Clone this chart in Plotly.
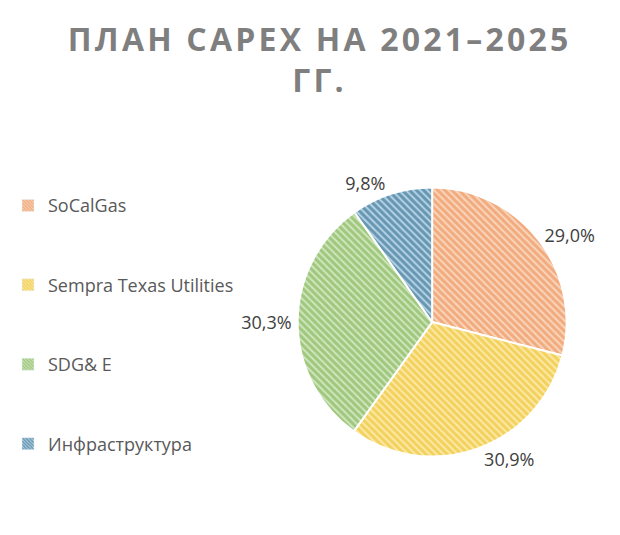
import plotly.graph_objects as go

# CAPEX plan 2021-2025, share by segment
segments = ["SoCalGas", "Sempra Texas Utilities", "SDG&E", "Инфраструктура"]
shares = [29.0, 30.9, 30.3, 9.8]
legend_names = ["SoCalGas", "Sempra Texas Utilities", "SDG& E", "Инфраструктура"]

line_colors = ["#E9823F", "#ECB912", "#6EA83E", "#1A5A80"]
back_colors = ["#F9D5BC", "#FBE9A8", "#D0E6BD", "#B5D3E4"]

title_text = "ПЛАН CAPEX НА 2021–2025<br>ГГ."
# wide tracking like the original title
title_text = "<br>".join("\u200a".join(line) for line in title_text.split("<br>"))

fig = go.Figure()

fig.add_trace(go.Pie(
    labels=segments,
    values=shares,
    sort=False,
    direction="clockwise",
    rotation=0,
    textposition="outside",
    texttemplate="%{percent:.1%}",
    textfont=dict(family="Open Sans", size=18, color="#404040"),
    marker=dict(
        colors=back_colors,
        line=dict(color="white", width=2),
        pattern=dict(shape="\\", fgcolor=line_colors, fillmode="overlay",
                     size=5, solidity=0.6),
    ),
    domain=dict(x=[0.462, 0.9], y=[0.158, 0.668]),
    showlegend=False,
    hoverinfo="label+percent",
))

# legend entries (spaced out like the original)
for i, name in enumerate(legend_names):
    fig.add_trace(go.Bar(
        x=[None], y=[None], name=name, legendgroup=name,
        marker=dict(color=back_colors[i],
                    pattern=dict(shape="\\", fgcolor=line_colors[i],
                                 fillmode="overlay", size=3, solidity=0.6)),
        showlegend=True,
    ))

fig.update_layout(
    width=620, height=535,
    paper_bgcolor="white", plot_bgcolor="white",
    separators=", ",
    margin=dict(l=0, r=0, t=0, b=0),
    title=dict(
        text="<b>" + title_text + "</b>",
        x=0.5, y=0.92, xanchor="center", yanchor="top",
        font=dict(family="Open Sans", size=32, color="#7F7F7F"),
    ),
    xaxis=dict(visible=False),
    yaxis=dict(visible=False),
    legend=dict(
        x=-0.01, y=0.665, xanchor="left", yanchor="top",
        font=dict(family="Open Sans", size=18, color="#595959"),
        tracegroupgap=53, traceorder="grouped",
        itemwidth=30,
    ),
)

fig.write_html("out.html")
